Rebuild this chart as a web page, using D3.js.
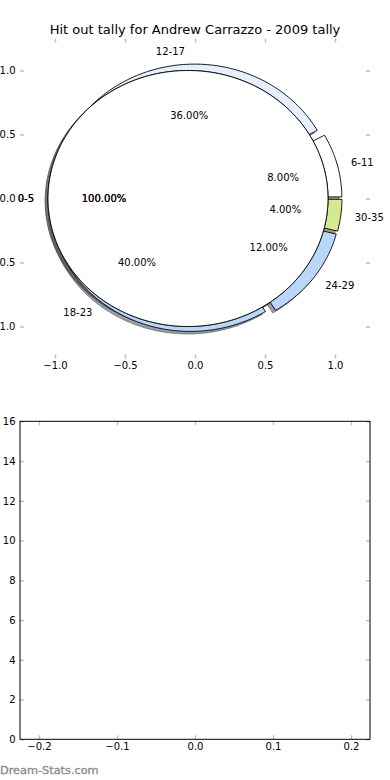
<!DOCTYPE html>
<html><head><meta charset="utf-8">
<script src="https://cdn.jsdelivr.net/npm/d3@7"></script>
<style>
body{margin:0;background:#fff}
svg{display:block}
text{font-family:"DejaVu Sans",sans-serif}
</style>
</head><body>
<svg id="c" width="390" height="780"></svg>
<script>
// ---- data ----
const titleText = "Hit out tally for Andrew Carrazzo - 2009 tally";
const ringCategories = ["6-11", "12-17", "18-23", "24-29", "30-35"];
const ringValues = [2, 9, 10, 3, 1];
const ringColors = ["#ffffff", "#e7effd", "#bad6f8", "#bad6f8", "#d4ea8e"];
const fullCategories = ["0-5"];
const fullValues = [1];
const fullColors = ["#ffffff"];
const pieTicks = [-1, -0.5, 0, 0.5, 1];
const lowerXTicks = [-0.2, -0.1, 0, 0.1, 0.2];
const lowerYTicks = [0, 2, 4, 6, 8, 10, 12, 14, 16];
const watermark = "Dream-Stats.com";

const svg = d3.select("#c");
const tickColor = "#c0c0c0";
const fmt1 = d3.format(".1f");

// ---- top (pie) axes ----
const px = d3.scaleLinear().domain([-1.25, 1.25]).range([20, 370]);
const py = d3.scaleLinear().domain([-1.25, 1.25]).range([358.5, 38.5]);

svg.append("text").attr("x", 195).attr("y", 34).attr("text-anchor", "middle")
  .attr("font-size", 13).attr("fill", "#000").text(titleText);

function styleAxis(g) {
  g.select(".domain").remove();
  g.selectAll(".tick line").attr("stroke", tickColor).attr("stroke-width", 1.5);
  g.selectAll(".tick text").attr("font-size", 10).attr("fill", "#000")
    .attr("font-family", "DejaVu Sans");
}

svg.append("g").attr("transform", "translate(0,358.5)")
  .call(d3.axisBottom(px).tickValues(pieTicks).tickSize(-4).tickPadding(3.5).tickFormat(fmt1)).call(styleAxis);
svg.append("g").attr("transform", "translate(0,38.5)")
  .call(d3.axisTop(px).tickValues(pieTicks).tickSize(-4).tickFormat("")).call(styleAxis);
svg.append("g").attr("transform", "translate(20,0)")
  .call(d3.axisLeft(py).tickValues(pieTicks).tickSize(-4).tickPadding(4.5).tickFormat(fmt1)).call(styleAxis);
svg.append("g").attr("transform", "translate(370,0)")
  .call(d3.axisRight(py).tickValues(pieTicks).tickSize(-4).tickFormat("")).call(styleAxis);

const line = d3.line().x(p => px(p[0])).y(p => py(p[1]));

function wedgePoints(cx, cy, t1, t2, full) {
  const pts = [];
  if (!full) pts.push([cx, cy]);
  const n = Math.max(8, Math.ceil((t2 - t1) / (Math.PI / 180)));
  for (let k = 0; k <= n; k++) {
    const t = t1 + (t2 - t1) * k / n;
    pts.push([cx + Math.cos(t), cy + Math.sin(t)]);
  }
  return pts;
}

function buildPie(cats, vals, colors, explode) {
  const total = d3.sum(vals);
  const arcs = d3.pie().sort(null).startAngle(0).endAngle(2 * Math.PI)(vals);
  return arcs.map((a, i) => {
    const mid = (a.startAngle + a.endAngle) / 2;
    const full = (a.endAngle - a.startAngle) >= 2 * Math.PI - 1e-9;
    const cx = explode * Math.cos(mid), cy = explode * Math.sin(mid);
    return {
      cat: cats[i], color: colors[i], pct: d3.format(".2f")(a.value / total * 100) + "%",
      mid, cx, cy, full,
      pts: wedgePoints(cx, cy, a.startAngle, a.endAngle, full)
    };
  });
}

const ring = buildPie(ringCategories, ringValues, ringColors, 0.05);
const fullPie = buildPie(fullCategories, fullValues, fullColors, 0.05);
const layers = [ring, fullPie, fullPie];

function shadowColor(c) {
  const r = d3.rgb(c);
  return d3.rgb(r.r * 0.3, r.g * 0.3, r.b * 0.3).formatHex();
}

const gPie = svg.append("g");
// shadows (below all wedges)
layers.forEach(items => {
  items.forEach(d => {
    const sp = d.pts.map(p => [p[0] - 0.02, p[1] - 0.02]);
    const sc = shadowColor(d.color);
    gPie.append("path").attr("d", line(sp) + "Z")
      .attr("fill", sc).attr("fill-opacity", 0.5)
      .attr("stroke", sc).attr("stroke-opacity", 0.5).attr("stroke-width", 1);
  });
});
// wedges
layers.forEach(items => {
  items.forEach(d => {
    gPie.append("path").attr("d", line(d.pts) + "Z")
      .attr("fill", d.color).attr("stroke", "#000").attr("stroke-width", 0.9)
      .attr("stroke-linejoin", "miter");
  });
});
// texts
layers.forEach(items => {
  items.forEach(d => {
    const lx = d.cx + 1.1 * Math.cos(d.mid), ly = d.cy + 1.1 * Math.sin(d.mid);
    svg.append("text").attr("x", px(lx)).attr("y", py(ly)).attr("dy", "0.38em")
      .attr("text-anchor", lx > 0 ? "start" : "end").attr("font-size", 10).attr("fill", "#000")
      .text(d.cat);
    const tx = d.cx + 0.6 * Math.cos(d.mid), ty = d.cy + 0.6 * Math.sin(d.mid);
    svg.append("text").attr("x", px(tx)).attr("y", py(ty)).attr("dy", "0.36em")
      .attr("text-anchor", "middle").attr("font-size", 10).attr("fill", "#000")
      .text(d.pct);
  });
});

// ---- bottom (empty) axes ----
const bx = d3.scaleLinear().domain([-175 / 780, 175 / 780]).range([20, 370]);
const by = d3.scaleLinear().domain([0, 16]).range([739.3, 421.3]);

svg.append("g").attr("transform", "translate(0,739.3)")
  .call(d3.axisBottom(bx).tickValues(lowerXTicks).tickSize(-4).tickPadding(3.5).tickFormat(fmt1)).call(styleAxis);
svg.append("g").attr("transform", "translate(0,421.3)")
  .call(d3.axisTop(bx).tickValues(lowerXTicks).tickSize(-4).tickFormat("")).call(styleAxis);
svg.append("g").attr("transform", "translate(20,0)")
  .call(d3.axisLeft(by).tickValues(lowerYTicks).tickSize(-4).tickPadding(4.5).tickFormat(d3.format("d"))).call(styleAxis);
svg.append("g").attr("transform", "translate(370,0)")
  .call(d3.axisRight(by).tickValues(lowerYTicks).tickSize(-4).tickFormat("")).call(styleAxis);

svg.append("rect").attr("x", 20).attr("y", 421.3).attr("width", 350).attr("height", 318)
  .attr("fill", "none").attr("stroke", "#000").attr("stroke-width", 1);

svg.append("text").attr("x", 0).attr("y", 774).attr("font-size", 11.3)
  .attr("fill", "#8c8c8c").attr("stroke", "#8c8c8c").attr("stroke-width", 0.35)
  .text(watermark);
</script>
</body></html>
